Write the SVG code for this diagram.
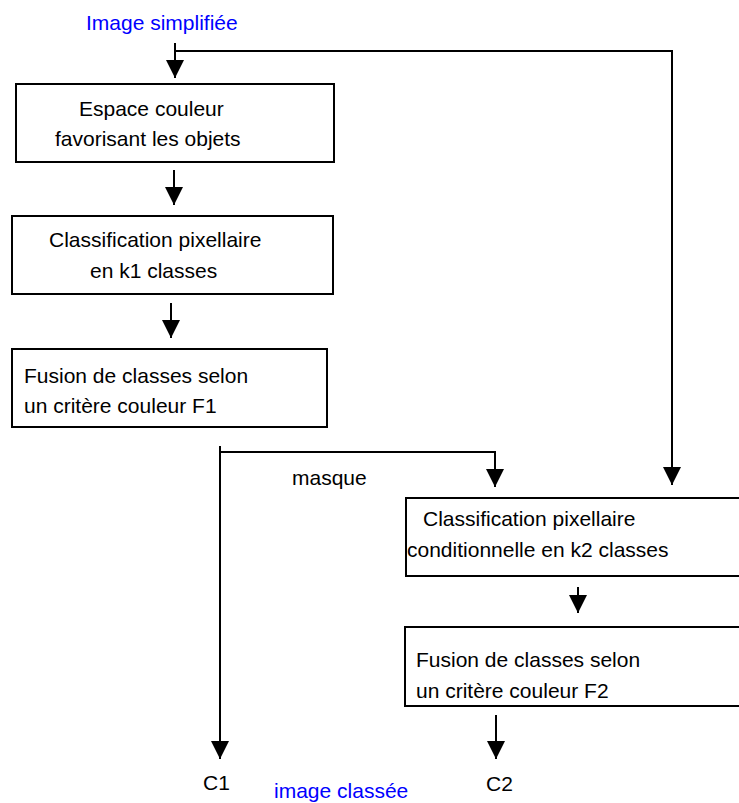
<svg xmlns="http://www.w3.org/2000/svg" width="739" height="803" viewBox="0 0 739 803">
<style>
text{font-family:"Liberation Sans",Arial,sans-serif;font-size:21px;fill:#000}
.blue{fill:#0000ff}
.box{fill:#fff;stroke:#000;stroke-width:2}
.conn{fill:none;stroke:#000;stroke-width:2}
</style>
<defs>
<marker id="ah" markerUnits="userSpaceOnUse" markerWidth="18" markerHeight="18" refX="18" refY="9" orient="auto" viewBox="0 0 18 18">
<path d="M0,0 L18,9 L0,18 z" fill="#000"/>
</marker>
</defs>
<text class="blue" x="86" y="30">Image simplifiée</text>
<g id="connectors">
<path class="conn" d="M175,43 V78" marker-end="url(#ah)"/>
<path class="conn" d="M175,51 H672 V485" marker-end="url(#ah)"/>
<path class="conn" d="M174,170 V205" marker-end="url(#ah)"/>
<path class="conn" d="M171,303 V338" marker-end="url(#ah)"/>
<path class="conn" d="M220,446 V759" marker-end="url(#ah)"/>
<path class="conn" d="M220,452 H495 V487" marker-end="url(#ah)"/>
<path class="conn" d="M578,587 V613" marker-end="url(#ah)"/>
<path class="conn" d="M496,715 V759" marker-end="url(#ah)"/>
</g>
<g id="n1">
<rect class="box" x="16" y="84" width="318" height="78"/>
<text x="79" y="116">Espace couleur</text>
<text x="55" y="146">favorisant les objets</text>
</g>
<g id="n2">
<rect class="box" x="12" y="216" width="321" height="78"/>
<text x="49" y="247">Classification pixellaire</text>
<text x="90" y="278">en k1 classes</text>
</g>
<g id="n3">
<rect class="box" x="12" y="349" width="315" height="78"/>
<text x="24" y="383">Fusion de classes selon</text>
<text x="24" y="413">un critère couleur F1</text>
</g>
<text x="292" y="485">masque</text>
<g id="n4">
<path class="box" d="M745,498 H406 V576 H745"/>
<text x="423" y="526">Classification pixellaire</text>
<text x="407" y="557">conditionnelle en k2 classes</text>
</g>
<g id="n5">
<path class="box" d="M745,627 H405 V706 H745"/>
<text x="416" y="667">Fusion de classes selon</text>
<text x="416" y="698">un critère couleur F2</text>
</g>
<text x="203" y="790">C1</text>
<text class="blue" x="274" y="798">image classée</text>
<text x="486" y="791">C2</text>
</svg>
